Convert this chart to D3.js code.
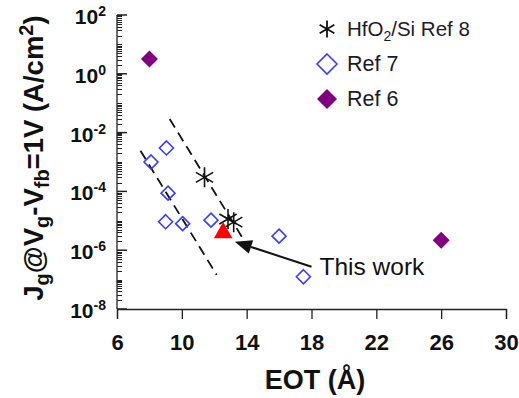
<!DOCTYPE html>
<html>
<head>
<meta charset="utf-8">
<script src="https://cdn.jsdelivr.net/npm/d3@7"></script>
<style>
  html, body { margin: 0; padding: 0; background: #fff; }
  svg { display: block; font-family: "Liberation Sans", Arial, sans-serif; }
</style>
</head>
<body>
<svg id="chart" width="519" height="398"></svg>
<script>
// Gate leakage current density vs. equivalent oxide thickness
const xTicks = [6, 10, 14, 18, 22, 26, 30];
const yTickExps = [2, 0, -2, -4, -6, -8];

// HfO2/Si, Ref 8
const ref8Eot = [11.4, 12.85, 13.2];
const ref8J   = [3e-4, 1.15e-5, 9e-6];

// Ref 7
const ref7Eot = [8.1, 9.05, 9.15, 9.0, 10.05, 11.8, 16.0, 17.5];
const ref7J   = [1e-3, 3e-3, 8.7e-5, 9.3e-6, 8e-6, 1.05e-5, 3e-6, 1.25e-7];

// Ref 6
const ref6Eot = [8.0, 26.0];
const ref6J   = [3.2, 2.2e-6];

// This work
const thisEot = [12.55];
const thisJ   = [3.9e-6];

// Trend guides (dashed)
const trendA = [[7.45, 2.4e-3], [12.15, 1.45e-7]];
const trendB = [[9.25, 2.9e-2], [13.9, 1.9e-6]];

// Arrow for "This work" label
const arrowTip = [13.27, 1.95e-6];
const arrowTail = [18.0, 2.75e-7];

const svg = d3.select("#chart");
const x = d3.scaleLinear().domain([6, 30]).range([117, 506]);
const y = d3.scaleLog().domain([1e-8, 1e2]).range([309, 15]);

// ---- axes ----
const xAxis = d3.axisBottom(x).tickValues(xTicks).tickSize(10).tickFormat("");
const gx = svg.append("g").attr("transform", `translate(0,${y(1e-8)})`).call(xAxis);
gx.select(".domain").attr("stroke", "#222").attr("stroke-width", 1.3);
gx.selectAll(".tick line").attr("stroke", "#222").attr("stroke-width", 1.3);

gx.selectAll(".tick").append("text")
  .attr("y", 41).attr("text-anchor", "middle")
  .attr("fill", "#111").attr("font-weight", "bold").attr("font-size", 22)
  .text(d => d);

// y axis: log with minor ticks, ticks pointing inward
const minorVals = [];
for (let e = -8; e < 2; e++) for (let m = 1; m <= 9; m++) minorVals.push(m * Math.pow(10, e));
minorVals.push(100);
const majorVals = yTickExps.map(e => Math.pow(10, e));

const gy = svg.append("g");
gy.append("line")
  .attr("x1", x(6)).attr("x2", x(6)).attr("y1", y(1e2)).attr("y2", y(1e-8))
  .attr("stroke", "#222").attr("stroke-width", 1.3);
gy.selectAll("line.minor").data(minorVals).join("line").attr("class", "minor")
  .attr("x1", x(6)).attr("x2", x(6) + 5)
  .attr("y1", d => Math.round(y(d)) + 0.5).attr("y2", d => Math.round(y(d)) + 0.5)
  .attr("stroke", "#222").attr("stroke-width", 1);
gy.selectAll("line.major").data(majorVals).join("line").attr("class", "major")
  .attr("x1", x(6)).attr("x2", x(6) + 10)
  .attr("y1", d => y(d)).attr("y2", d => y(d))
  .attr("stroke", "#222").attr("stroke-width", 1.5);

const yl = gy.selectAll("text.ylab").data(yTickExps).join("text").attr("class", "ylab")
  .attr("x", 90).attr("y", d => y(Math.pow(10, d)) + 9)
  .attr("text-anchor", "end").attr("fill", "#111")
  .attr("font-weight", "bold").attr("font-size", 21);
yl.append("tspan").text("10");
yl.append("tspan").attr("dy", -8).attr("font-size", 14).text(d => d < 0 ? "-" + (-d) : String(d));
// right-align the whole label (base + exponent)
yl.attr("text-anchor", "start").each(function () {
  const w = this.getComputedTextLength();
  d3.select(this).attr("x", 106 - w);
});

// axis titles
svg.append("text")
  .attr("x", 315).attr("y", 389).attr("text-anchor", "middle")
  .attr("font-weight", "bold").attr("font-size", 27).attr("fill", "#111")
  .text("EOT (Å)");

const yt = svg.append("text")
  .attr("transform", "translate(43,158) rotate(-90)")
  .attr("text-anchor", "middle")
  .attr("font-weight", "bold").attr("font-size", 27.5).attr("fill", "#111");
yt.append("tspan").text("J");
yt.append("tspan").attr("font-size", 20).attr("dy", 6).text("g");
yt.append("tspan").attr("dy", -6).text("@V");
yt.append("tspan").attr("font-size", 20).attr("dy", 6).text("g");
yt.append("tspan").attr("dy", -6).text("-V");
yt.append("tspan").attr("font-size", 20).attr("dy", 6).text("fb");
yt.append("tspan").attr("dy", -6).text("=1V (A/cm");
yt.append("tspan").attr("font-size", 20).attr("dy", -10).text("2");
yt.append("tspan").attr("dy", 10).text(")");

// ---- trend guides ----
const line = d3.line().x(d => x(d[0])).y(d => y(d[1]));
[trendA, trendB].forEach(t => {
  svg.append("path").attr("d", line(t))
    .attr("fill", "none").attr("stroke", "#111").attr("stroke-width", 1.8)
    .attr("stroke-dasharray", "10,6");
});

// ---- markers ----
const diamond = (r) => `M0,${-r}L${r},0L0,${r}L${-r},0Z`;
const asterisk = (s) => {
  const c = Math.cos(Math.PI / 6) * s, h = Math.sin(Math.PI / 6) * s;
  return `M0,${-s}L0,${s}M${-c},${-h}L${c},${h}M${-c},${h}L${c},${-h}`;
};
const zip = (a, b) => a.map((v, i) => [v, b[i]]);

svg.append("g").selectAll("path").data(zip(ref7Eot, ref7J)).join("path")
  .attr("transform", d => `translate(${x(d[0])},${y(d[1])})`)
  .attr("d", diamond(7)).attr("fill", "none").attr("stroke", "#3b3bff").attr("stroke-width", 1.6);

svg.append("g").selectAll("path").data(zip(ref6Eot, ref6J)).join("path")
  .attr("transform", d => `translate(${x(d[0])},${y(d[1])})`)
  .attr("d", diamond(8.5)).attr("fill", "#800080");

svg.append("g").selectAll("path").data(zip(ref8Eot, ref8J)).join("path")
  .attr("transform", d => `translate(${x(d[0])},${y(d[1])})`)
  .attr("d", asterisk(10)).attr("fill", "none").attr("stroke", "#111").attr("stroke-width", 1.6);

svg.append("g").selectAll("path").data(zip(thisEot, thisJ)).join("path")
  .attr("transform", d => `translate(${x(d[0])},${y(d[1])})`)
  .attr("d", d3.symbol(d3.symbolTriangle, 150)).attr("fill", "#ff0000");

// ---- "This work" annotation ----
const tx = x(arrowTip[0]), ty = y(arrowTip[1]);
const sx = x(arrowTail[0]), sy = y(arrowTail[1]);
const ang = Math.atan2(ty - sy, tx - sx);
const hl = 17, hw = 7;
const bx = tx - hl * Math.cos(ang), by = ty - hl * Math.sin(ang);
svg.append("line").attr("x1", sx).attr("y1", sy).attr("x2", bx).attr("y2", by)
  .attr("stroke", "#111").attr("stroke-width", 2);
svg.append("path")
  .attr("d", `M${tx},${ty}L${bx + hw * Math.sin(ang)},${by - hw * Math.cos(ang)}L${bx - hw * Math.sin(ang)},${by + hw * Math.cos(ang)}Z`)
  .attr("fill", "#111");
svg.append("text").attr("x", sx + 8).attr("y", sy + 8)
  .attr("font-size", 24.5).attr("fill", "#111").text("This work");

// ---- legend ----
const legend = svg.append("g");
const items = [
  { d: asterisk(8.5), fill: "none", stroke: "#111", sw: 1.8 },
  { d: diamond(10), fill: "none", stroke: "#3b3bff", sw: 1.6 },
  { d: diamond(10), fill: "#800080", stroke: "none", sw: 0 }
];
items.forEach((it, i) => {
  const cy = 29 + i * 35;
  legend.append("path").attr("transform", `translate(327,${cy})`)
    .attr("d", it.d).attr("fill", it.fill).attr("stroke", it.stroke).attr("stroke-width", it.sw);
});
const l0 = legend.append("text").attr("x", 347).attr("y", 36).attr("font-size", 20.5).attr("fill", "#1a1a2a");
l0.append("tspan").text("HfO");
l0.append("tspan").attr("font-size", 14).attr("dy", 5).text("2");
l0.append("tspan").attr("dy", -5).text("/Si Ref 8");
legend.append("text").attr("x", 347).attr("y", 71).attr("font-size", 21.5).attr("fill", "#1a1a2a").text("Ref 7");
legend.append("text").attr("x", 347).attr("y", 106).attr("font-size", 21.5).attr("fill", "#1a1a2a").text("Ref 6");
</script>
</body>
</html>
